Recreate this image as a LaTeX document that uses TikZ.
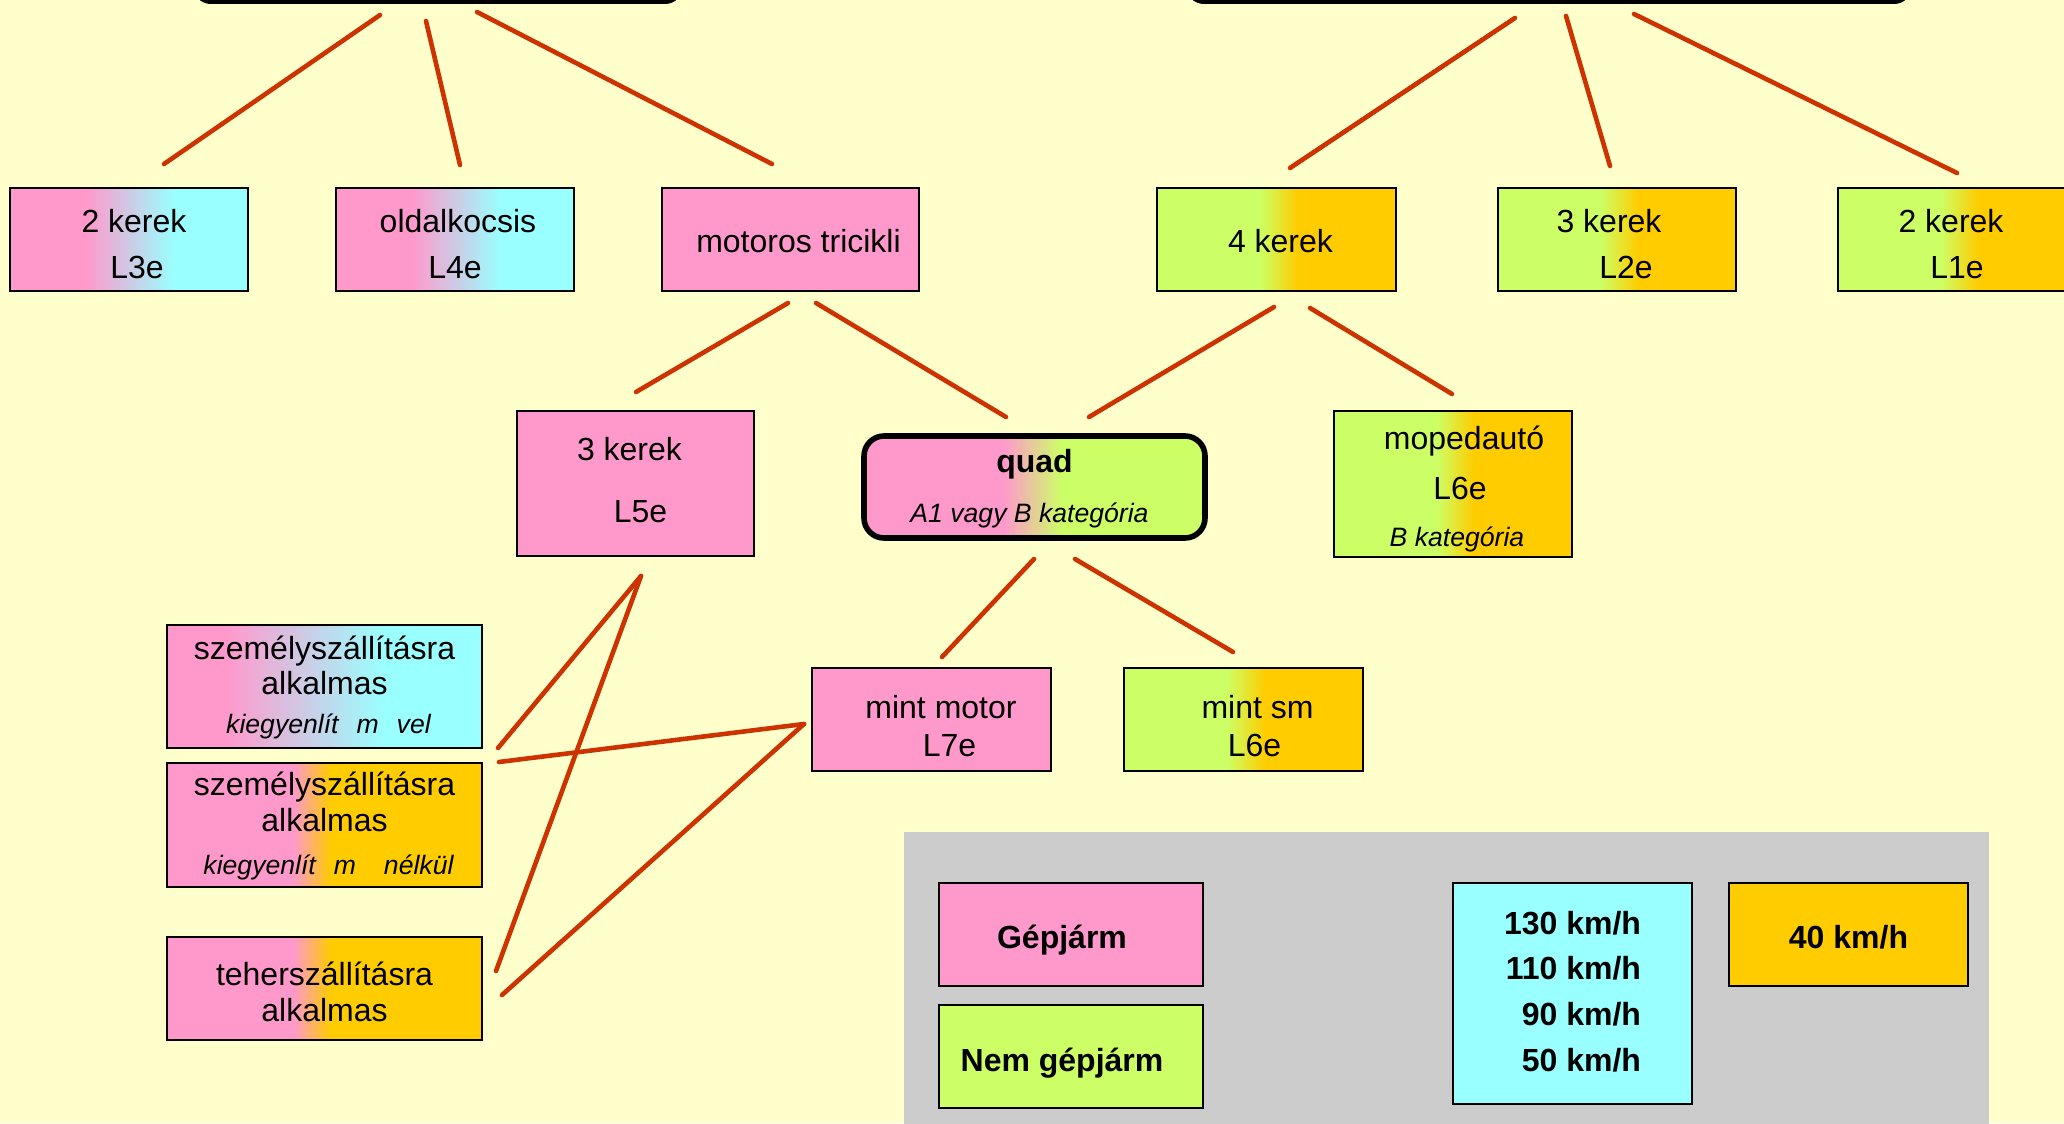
\documentclass[tikz,border=0pt]{standalone}
\usepackage{fontspec}
\setmainfont{Liberation Sans}
\definecolor{bgc}{HTML}{FFFFCC}
\definecolor{pk}{HTML}{FF99CC}
\definecolor{cy}{HTML}{99FFFF}
\definecolor{yg}{HTML}{CCFF66}
\definecolor{og}{HTML}{FFCC00}
\definecolor{gr}{HTML}{CCCCCC}
\definecolor{ln}{HTML}{CC3300}
\pgfdeclarehorizontalshading{pkcy}{100bp}{color(0bp)=(pk); color(41bp)=(pk); color(59.5bp)=(cy); color(100bp)=(cy)}
\pgfdeclarehorizontalshading{pkcyw}{100bp}{color(0bp)=(pk); color(34.5bp)=(pk); color(59.5bp)=(cy); color(100bp)=(cy)}
\pgfdeclarehorizontalshading{pkyg}{100bp}{color(0bp)=(pk); color(45.5bp)=(pk); color(54bp)=(yg); color(100bp)=(yg)}
\pgfdeclarehorizontalshading{ygog}{100bp}{color(0bp)=(yg); color(46.5bp)=(yg); color(54.5bp)=(og); color(100bp)=(og)}
\pgfdeclarehorizontalshading{pkog}{100bp}{color(0bp)=(pk); color(45bp)=(pk); color(51bp)=(og); color(100bp)=(og)}
\tikzset{
  box/.style={draw=black, line width=1.4pt, rectangle, inner sep=0pt,
    font=\fontsize{16}{23}\selectfont},
  conn/.style={draw=ln, line width=2.3pt, line cap=round},
}
\newcommand{\itl}[1]{{\fontsize{13.3}{16}\selectfont\itshape #1}}
% lowered centred rows: #1 = lowering, #2 = rows
\newcommand{\tb}[2]{\raisebox{-#1}[\height][\depth]{\begin{tabular}{@{}c@{}}#2\end{tabular}}}
\newcommand{\tbr}[2]{\raisebox{-#1}[\height][\depth]{\begin{tabular}{@{}r@{}}#2\end{tabular}}}
\begin{document}
\begin{tikzpicture}[x=0.5pt,y=-0.5pt]
\useasboundingbox (0,0) rectangle (2064,1123);
\clip (0,0) rectangle (2064,1123);
\fill[bgc] (0,0) rectangle (2064,1123);
% top cut-off boxes
\node[draw=black, line width=2pt, rounded corners=8pt, minimum width=243pt, minimum height=41pt] (top1) at (438,-39) {};
\node[draw=black, line width=2pt, rounded corners=8pt, minimum width=361pt, minimum height=41pt] (top2) at (1549,-39) {};
% level 2
\node[box, shade, shading=pkcy, minimum width=119pt, minimum height=51.5pt] (b2k) at (129,239.5) {\tb{3.45pt}{\hspace*{5pt}2 kerek\\\hspace*{8pt}L3e}};
\node[box, shade, shading=pkcy, minimum width=119pt, minimum height=51.5pt] (bold) at (455,239.5) {\tb{3.45pt}{\hspace*{3pt}oldalkocsis\\L4e}};
\node[box, fill=pk, minimum width=128.5pt, minimum height=51.5pt] (btri) at (790.5,239.5) {\tb{1.85pt}{\hspace*{8pt}motoros tricikli}};
\node[box, shade, shading=ygog, minimum width=119.5pt, minimum height=51.5pt] (b4k) at (1276.5,239.5) {\tb{1.85pt}{\hspace*{4pt}4 kerek}};
\node[box, shade, shading=ygog, minimum width=119pt, minimum height=51.5pt] (b3k) at (1617,239.5) {\tb{3.45pt}{\hspace*{-8pt}3 kerek\\\hspace*{9pt}L2e}};
\node[box, shade, shading=ygog, minimum width=119pt, minimum height=51.5pt] (b2kr) at (1957,239.5) {\tb{3.45pt}{\hspace*{-6pt}2 kerek\\L1e}};
% level 3
\node[box, fill=pk, minimum width=118.5pt, minimum height=72.5pt, font=\fontsize{16}{31}\selectfont] (b5) at (635.5,483.5) {\tb{-2.3pt}{\hspace*{-6pt}3 kerek\\\hspace*{5pt}L5e}};
\node[box, shade, shading=pkyg, line width=2.8pt, rounded corners=10pt, minimum width=170.5pt, minimum height=51pt] (quad) at (1034.5,487) {\tb{0.7pt}{\textbf{quad}\\[2.35pt]\hspace*{-5pt}\itl{A1 vagy B kategória}}};
\node[box, shade, shading=ygog, minimum width=119pt, minimum height=73pt, font=\fontsize{16}{23.4}\selectfont] (moped) at (1453,484) {\tb{2.4pt}{\hspace*{11pt}mopedautó\\[1.6pt]\hspace*{7pt}L6e\\\hspace*{4pt}\itl{B kategória}}};
% level 4
\node[box, fill=pk, minimum width=119.5pt, minimum height=51.5pt, font=\fontsize{16}{19}\selectfont] (mm) at (931.5,719.5) {\tb{5.15pt}{\hspace*{9.5pt}mint motor\\\hspace*{18pt}L7e}};
\node[box, shade, shading=ygog, minimum width=119.5pt, minimum height=51.5pt, font=\fontsize{16}{19}\selectfont] (msm) at (1243.5,719.5) {\tb{5.15pt}{\hspace*{14pt}mint sm\\\hspace*{11pt}L6e}};
% left boxes
\node[box, shade, shading=pkcyw, minimum width=157.5pt, minimum height=61.5pt, font=\fontsize{16}{17.8}\selectfont] (sz1) at (324.5,686.5) {\tb{1.35pt}{személyszállításra\\alkalmas\\[1.6pt]\itl{\hspace*{4pt}kiegyenlít\hspace{9pt}m\hspace{9pt}vel}}};
\node[box, shade, shading=pkog, minimum width=157.5pt, minimum height=62pt, font=\fontsize{16}{17.75}\selectfont] (sz2) at (324.5,825) {\tb{1.5pt}{személyszállításra\\alkalmas\\[3.65pt]\itl{\hspace*{4pt}kiegyenlít\hspace{9pt}m\hspace{14pt}nélkül}}};
\node[box, shade, shading=pkog, minimum width=157.5pt, minimum height=51.5pt, font=\fontsize{16}{17.75}\selectfont] (teher) at (324.5,988.5) {\tb{3.9pt}{teherszállításra\\alkalmas}};
% legend
\fill[gr] (904,832) rectangle (1989,1130);
\node[box, fill=pk, font=\fontsize{16}{23}\selectfont\bfseries, minimum width=132pt, minimum height=51.5pt] (lg1) at (1071,934.5) {\tb{2.5pt}{\hspace*{-9pt}Gépjárm}};
\node[box, fill=yg, font=\fontsize{16}{23}\selectfont\bfseries, minimum width=132pt, minimum height=51.5pt] (lg2) at (1071,1056.5) {\tb{2.7pt}{\hspace*{-9pt}Nem gépjárm}};
\node[box, fill=cy, font=\fontsize{16}{22.8}\selectfont\bfseries, minimum width=119.5pt, minimum height=110.5pt] (lg3) at (1572.5,993.5) {\tbr{0pt}{130 km/h\\110 km/h\\90 km/h\\50 km/h}};
\node[box, fill=og, font=\fontsize{16}{23}\selectfont\bfseries, minimum width=119.5pt, minimum height=51.5pt] (lg4) at (1848.5,934.5) {\tb{2.5pt}{40 km/h}};
% connector end points
\coordinate (t1a) at (380,15);  \coordinate (t1b) at (426,21);  \coordinate (t1c) at (477,12);
\coordinate (t2a) at (1515,18); \coordinate (t2b) at (1566,16); \coordinate (t2c) at (1634,14);
\coordinate (e2k) at (164,164); \coordinate (eold) at (460,165); \coordinate (etri) at (772,164);
\coordinate (e4k) at (1290,168); \coordinate (e3k) at (1610,166); \coordinate (e2kr) at (1957,173);
\coordinate (tria) at (788,303); \coordinate (trib) at (816,303);
\coordinate (e5) at (636,392); \coordinate (eqa) at (1006,417);
\coordinate (k4a) at (1274,307); \coordinate (k4b) at (1310,308);
\coordinate (eqb) at (1089,417); \coordinate (emop) at (1452,394);
\coordinate (qa) at (1034,559); \coordinate (qb) at (1075,559);
\coordinate (emm) at (942,657); \coordinate (emsm) at (1233,652);
\coordinate (b5s) at (641,576); \coordinate (mmw) at (804,724);
\coordinate (esz1) at (498,748); \coordinate (esz2) at (499,762);
\coordinate (eta) at (496,971); \coordinate (etb) at (502,995);
% connectors
\draw[conn] (t1a) -- (e2k);
\draw[conn] (t1b) -- (eold);
\draw[conn] (t1c) -- (etri);
\draw[conn] (t2a) -- (e4k);
\draw[conn] (t2b) -- (e3k);
\draw[conn] (t2c) -- (e2kr);
\draw[conn] (tria) -- (e5);
\draw[conn] (trib) -- (eqa);
\draw[conn] (k4a) -- (eqb);
\draw[conn] (k4b) -- (emop);
\draw[conn] (qa) -- (emm);
\draw[conn] (qb) -- (emsm);
\draw[conn] (b5s) -- (esz1);
\draw[conn] (b5s) -- (eta);
\draw[conn] (mmw) -- (esz2);
\draw[conn] (mmw) -- (etb);
\end{tikzpicture}
\end{document}
